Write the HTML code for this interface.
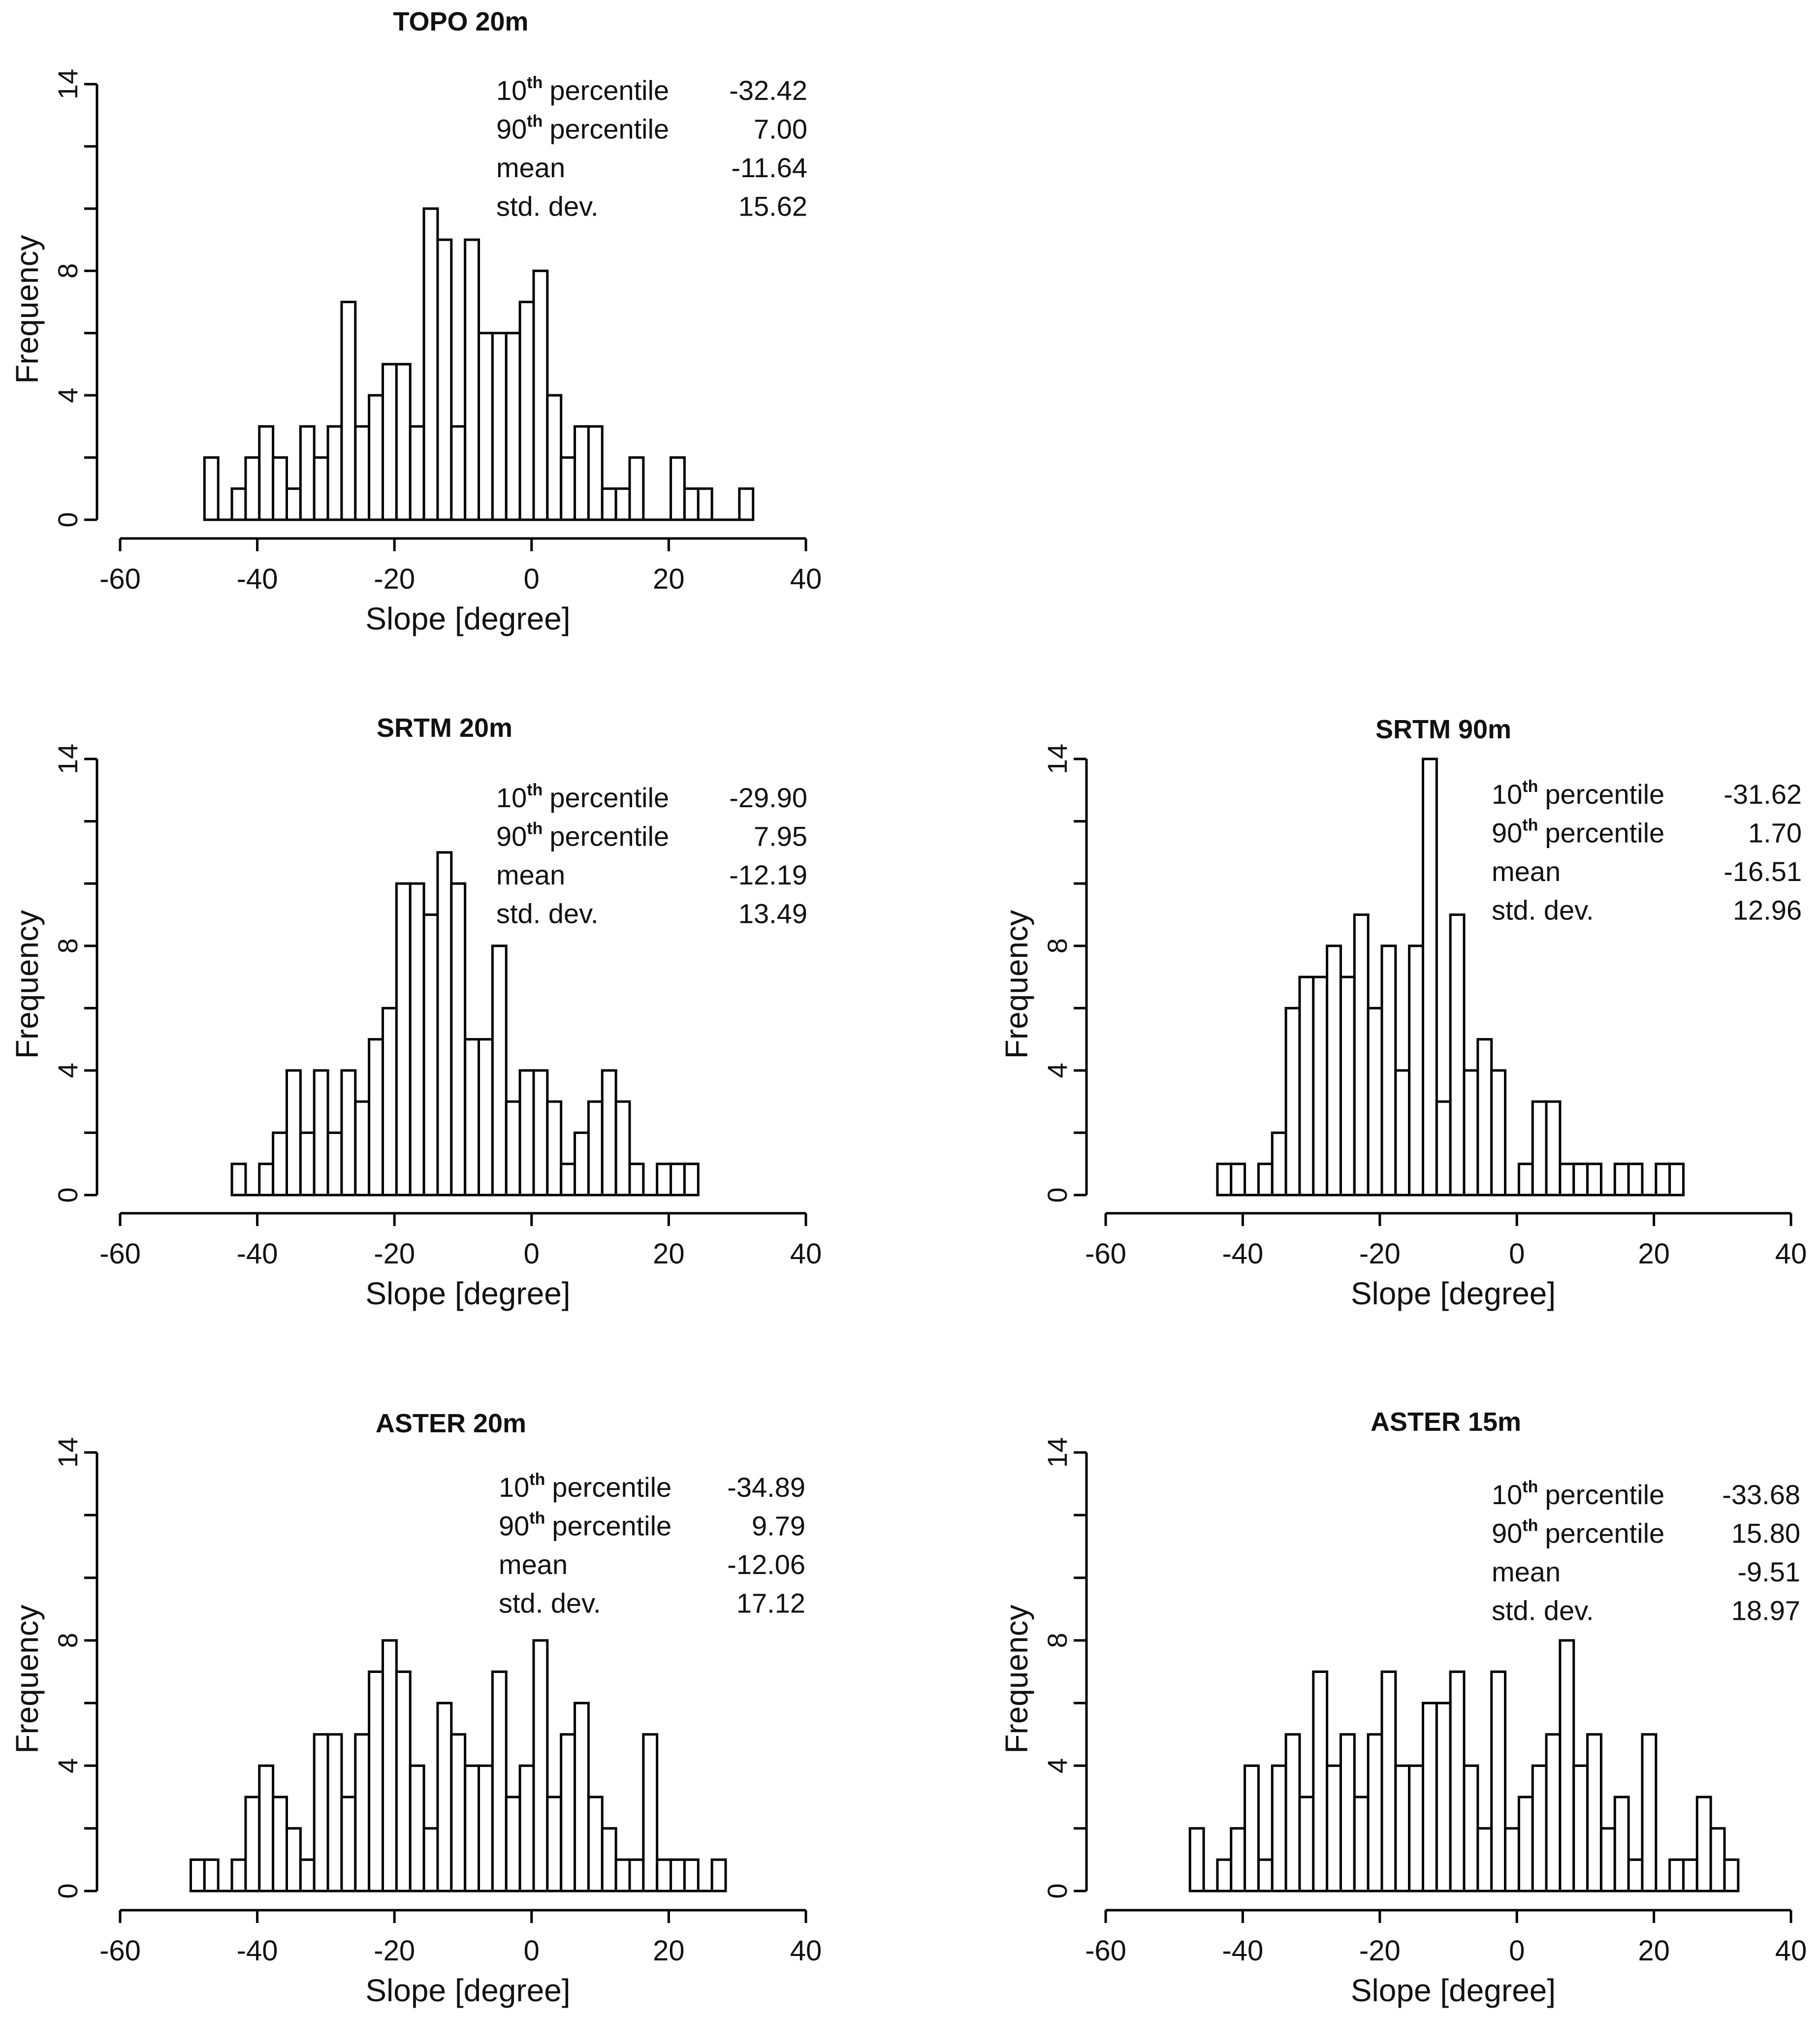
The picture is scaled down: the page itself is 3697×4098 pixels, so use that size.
<!DOCTYPE html>
<html><head><meta charset="utf-8"><title>Slope histograms</title>
<style>
html,body{margin:0;padding:0;background:#fff;}
svg{display:block;font-family:"Liberation Sans",Arial,sans-serif;}
</style></head>
<body>
<svg id="chart" xmlns="http://www.w3.org/2000/svg" width="3697" height="4098" viewBox="0 0 3697 4098">
<rect x="0" y="0" width="3697" height="4098" fill="#fff"/>
</svg>
<script>
// ---- data ----
const binWidth = 2;
const xTickValues = [-60, -40, -20, 0, 20, 40];
const yTickLabels = [0, 4, 8, 14];
const yTickMarks = [0, 2, 4, 6, 8, 10, 12, 14];
const statNames = ["percentile", "percentile", "mean", "std. dev."];

const topoStart = -47.7;
const topoCounts = [2,0,1,2,3,2,1,3,2,3,7,3,4,5,5,3,10,9,3,9,6,6,6,7,8,4,2,3,3,1,1,2,0,0,2,1,1,0,0,1];
const topoStats = ["-32.42", "7.00", "-11.64", "15.62"];

const srtm20Start = -43.7;
const srtm20Counts = [1,0,1,2,4,2,4,2,4,3,5,6,10,10,9,11,10,5,5,8,3,4,4,3,1,2,3,4,3,1,0,1,1,1];
const srtm20Stats = ["-29.90", "7.95", "-12.19", "13.49"];

const srtm90Start = -43.7;
const srtm90Counts = [1,1,0,1,2,6,7,7,8,7,9,6,8,4,8,14,3,9,4,5,4,0,1,3,3,1,1,1,0,1,1,0,1,1];
const srtm90Stats = ["-31.62", "1.70", "-16.51", "12.96"];

const aster20Start = -49.7;
const aster20Counts = [1,1,0,1,3,4,3,2,1,5,5,3,5,7,8,7,4,2,6,5,4,4,7,3,4,8,3,5,6,3,2,1,1,5,1,1,1,0,1];
const aster20Stats = ["-34.89", "9.79", "-12.06", "17.12"];

const aster15Start = -47.7;
const aster15Counts = [2,0,1,2,4,1,4,5,3,7,4,5,3,5,7,4,4,6,6,7,4,2,7,2,3,4,5,8,4,5,2,3,1,5,0,1,1,3,2,1];
const aster15Stats = ["-33.68", "15.80", "-9.51", "18.97"];

// ---- layout (not data) ----
const panels = [
  {id:"topo", title:"TOPO 20m", start:topoStart, counts:topoCounts, stats:topoStats,
   axX:197, x0:244, x1:1637, yTop:171, yBase:1056, xAxisY:1094, titleX:936, titleY:62,
   statX:1008, statR:1640, statY:203},
  {id:"srtm-20m", title:"SRTM 20m", start:srtm20Start, counts:srtm20Counts, stats:srtm20Stats,
   axX:197, x0:244, x1:1637, yTop:1542, yBase:2428, xAxisY:2465, titleX:903, titleY:1497,
   statX:1008, statR:1640, statY:1640},
  {id:"srtm-90m", title:"SRTM 90m", start:srtm90Start, counts:srtm90Counts, stats:srtm90Stats,
   axX:2207, x0:2246, x1:3638, yTop:1542, yBase:2428, xAxisY:2465, titleX:2932, titleY:1500,
   statX:3030, statR:3660, statY:1633},
  {id:"aster-20m", title:"ASTER 20m", start:aster20Start, counts:aster20Counts, stats:aster20Stats,
   axX:197, x0:244, x1:1637, yTop:2951, yBase:3842, xAxisY:3881, titleX:916, titleY:2910,
   statX:1013, statR:1636, statY:3041},
  {id:"aster-15m", title:"ASTER 15m", start:aster15Start, counts:aster15Counts, stats:aster15Stats,
   axX:2207, x0:2246, x1:3638, yTop:2951, yBase:3842, xAxisY:3881, titleX:2937, titleY:2907,
   statX:3030, statR:3657, statY:3056}
];

const NS = "http://www.w3.org/2000/svg";
const svg = document.getElementById("chart");
function mk(tag, attrs, parent) {
  const e = document.createElementNS(NS, tag);
  for (const k in attrs) e.setAttribute(k, attrs[k]);
  (parent || svg).appendChild(e);
  return e;
}

panels.forEach(function(p) {
  const g = mk("g", {});
  
  
  const xs = function(v) { return p.x0 + (v + 60) / 100 * (p.x1 - p.x0); };
  const ys = function(v) { return p.yBase - v / 14 * (p.yBase - p.yTop); };

  const t = mk("text", {x:p.titleX, y:p.titleY, "text-anchor":"middle", "font-size":54, "font-weight":"bold", fill:"#111"}, g);
  t.textContent = p.title;
  
  

  const bars = mk("g", {fill:"#fff", stroke:"#000", "stroke-width":5}, g);
  
  
  const first = xs(p.start), last = xs(p.start + p.counts.length * binWidth);
  const bl = mk("line", {x1:first, x2:last, y1:ys(0), y2:ys(0)}, bars);
  
  
  p.counts.forEach(function(c, i) {
    if (c <= 0) return;
    const a = xs(p.start + i * binWidth), b = xs(p.start + (i + 1) * binWidth);
    const r = mk("rect", {x:a, y:ys(c), width:b - a, height:ys(0) - ys(c)}, bars);
    
    
  });

  const ya = mk("g", {stroke:"#000", "stroke-width":5}, g);
  
  
  mk("line", {x1:p.axX, x2:p.axX, y1:ys(14), y2:ys(0)}, ya);
  yTickMarks.forEach(function(v) {
    mk("line", {x1:p.axX - 26, x2:p.axX, y1:ys(v), y2:ys(v)}, ya);
  });
  yTickLabels.forEach(function(v) {
    const lx = p.axX - 40, ly = ys(v);
    const tl = mk("text", {x:lx, y:ly, "text-anchor":"middle", "font-size":56, fill:"#111",
      transform:"rotate(-90 " + lx + " " + ly + ")"}, g);
    tl.textContent = String(v);
    
    
  });
  const fy = (p.yTop + p.yBase) / 2 + 15, fx = p.axX - 120;
  const fl = mk("text", {x:fx, y:fy, "text-anchor":"middle", "font-size":64, fill:"#111",
    transform:"rotate(-90 " + fx + " " + fy + ")"}, g);
  fl.textContent = "Frequency";
  
  

  const xa = mk("g", {stroke:"#000", "stroke-width":5}, g);
  
  
  mk("line", {x1:xs(-60), x2:xs(40), y1:p.xAxisY, y2:p.xAxisY}, xa);
  xTickValues.forEach(function(v) {
    mk("line", {x1:xs(v), x2:xs(v), y1:p.xAxisY, y2:p.xAxisY + 26}, xa);
    const tl = mk("text", {x:xs(v), y:p.xAxisY + 102, "text-anchor":"middle", "font-size":58, fill:"#111"}, g);
    tl.textContent = String(v);
    
    
  });
  const xl = mk("text", {x:(xs(-60) + xs(40)) / 2 + 10, y:p.xAxisY + 185, "text-anchor":"middle", "font-size":64, fill:"#111"}, g);
  xl.textContent = "Slope [degree]";
  
  

  const sg = mk("g", {"font-size":56, fill:"#111"}, g);
  
  
  const pref = ["10", "90", "", ""];
  statNames.forEach(function(n, i) {
    const y = p.statY + i * 78.5;
    const lab = mk("text", {x:p.statX, y:y}, sg);
    if (pref[i]) {
      lab.appendChild(document.createTextNode(pref[i]));
      const sup = mk("tspan", {"font-size":34, dy:-24, "font-weight":"bold"}, lab);
      sup.textContent = "th";
      const rest = mk("tspan", {dy:24, dx:14}, lab);
      rest.textContent = n;
    } else {
      lab.textContent = n;
    }
    
    
    const val = mk("text", {x:p.statR, y:y, "text-anchor":"end"}, sg);
    val.textContent = p.stats[i];
    
    
  });
});
</script>
</body></html>
